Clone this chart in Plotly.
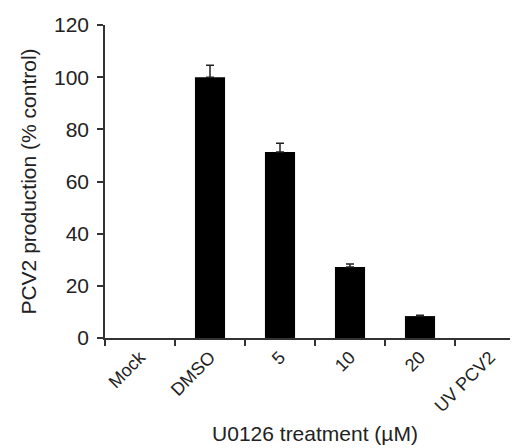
import plotly.graph_objects as go

categories = ["Mock", "DMSO", "5", "10", "20", "UV PCV2"]
values = [0, 100, 71.3, 27.2, 8.4, 0]
errors = [0, 4.6, 3.4, 1.2, 0.3, 0]

# zero bars (undetected) are drawn as nothing, as in the reference
y_plot = [v if v > 0 else None for v in values]

fig = go.Figure()
fig.add_trace(go.Bar(
    x=categories, y=y_plot,
    marker=dict(color="black", line=dict(width=0)),
    width=0.43,
    error_y=dict(type="data", array=errors, arrayminus=[0]*len(errors), symmetric=False,
                 color="#222", thickness=1.5, width=4, visible=True),
))

xtickfont = dict(family="Liberation Sans, Arial, sans-serif", size=18, color="#222")
ytickfont = dict(family="Liberation Sans, Arial, sans-serif", size=21, color="#222")
titlefont = dict(family="Liberation Sans, Arial, sans-serif", size=21, color="#222")
fig.update_layout(
    width=518, height=448,
    margin=dict(l=97, r=1, t=17, b=118),
    paper_bgcolor="white", plot_bgcolor="white",
    font=xtickfont, showlegend=False,
)
fig.update_yaxes(
    range=[0, 120], tickvals=[0, 20, 40, 60, 80, 100, 120],
    showline=True, linecolor="#333", linewidth=1.5,
    ticks="outside", ticklen=6, tickwidth=1.5, tickcolor="#333",
    ticklabelstandoff=4,
    showgrid=False, zeroline=False, tickfont=ytickfont,
    title=dict(text="PCV2 production (% control)", font=titlefont, standoff=12),
)
fig.update_xaxes(
    showline=True, linecolor="#333", linewidth=1.5,
    ticks="outside", ticklen=6, tickwidth=1.5, tickcolor="#333",
    tickson="boundaries", tickangle=-45, tickfont=xtickfont,
    showgrid=False, zeroline=False,
    title=dict(text="U0126 treatment (µM)", font=titlefont, standoff=11),
)
fig.write_html("out.html")
